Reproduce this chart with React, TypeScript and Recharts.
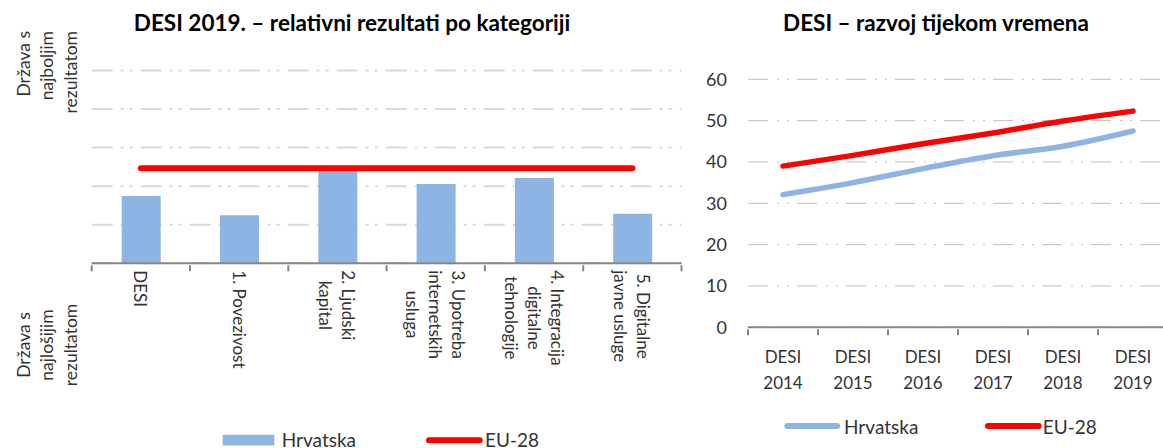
import React from "react";
import { Bar, CartesianGrid, ComposedChart, Line, LineChart, XAxis, YAxis } from "recharts";

// lijevi graf – relativni rezultati (0 = najlošija država, 1 = najbolja)
const kategorije = [
  "DESI",
  "1. Povezivost",
  "2. Ljudski\nkapital",
  "3. Upotreba\ninternetskih\nusluga",
  "4. Integracija\ndigitalne\ntehnologije",
  "5. Digitalne\njavne usluge",
];
const hrvatskaRel = [0.349, 0.249, 0.479, 0.411, 0.442, 0.257];
const eu28Rel = [0.493, 0.493, 0.493, 0.493, 0.493, 0.493];
const relTicks = [0, 0.2, 0.4, 0.6, 0.8, 1];

// desni graf – DESI kroz godine
const godine = ["DESI 2014", "DESI 2015", "DESI 2016", "DESI 2017", "DESI 2018", "DESI 2019"];
const hrvatskaDesi = [32.1, 35.0, 38.4, 41.5, 43.8, 47.5];
const eu28Desi = [39.0, 41.6, 44.4, 47.0, 49.9, 52.3];
const desiTicks = [0, 10, 20, 30, 40, 50, 60];

const serije = ["Hrvatska", "EU-28"];
const najboljiLines = ["Država s", "najboljim", "rezultatom"];
const najlosijiLines = ["Država s", "najlošijim", "rezultatom"];

const BLUE = "#8EB4E3";
const RED = "#FF0000";
const AXIS = "#868686";
const TEXT = "#333333";
const FONT = "Lato, 'Noto Sans', sans-serif";
const LABEL_SIZE = 17;

const relData = kategorije.map((k, i) => ({ kategorija: k, hrvatska: hrvatskaRel[i], eu28: eu28Rel[i] }));
const desiData = godine.map((g, i) => ({ godina: g, hrvatska: hrvatskaDesi[i], eu28: eu28Desi[i] }));

let ctx: CanvasRenderingContext2D | null = null;
function textWidth(s: string, size: number) {
  if (!ctx) ctx = document.createElement("canvas").getContext("2d");
  if (!ctx) return s.length * size * 0.5;
  ctx.font = `${size}px Lato`;
  return ctx.measureText(s).width;
}

function BoundaryTicks({ x, y, half, last }: { x: number; y: number; half: number; last: boolean }) {
  return (
    <>
      <line x1={x - half} x2={x - half} y1={y} y2={y + 6} stroke={AXIS} strokeWidth={2} />
      {last && <line x1={x + half} x2={x + half} y1={y} y2={y + 6} stroke={AXIS} strokeWidth={2} />}
    </>
  );
}

function RotatedTick(props: any) {
  const { x, y, payload, index, visibleTicksCount } = props;
  const half = payload?.offset || 49;
  const lines = String(payload.value).split("\n");
  const maxW = Math.max(...lines.map((l) => textWidth(l, LABEL_SIZE)));
  const top = y + 5;
  const lh = 23;
  return (
    <g>
      <BoundaryTicks x={x} y={y} half={half} last={index === visibleTicksCount - 1} />
      {lines.map((l, i) => (
        <text
          key={i}
          transform={`rotate(90, ${x}, ${top})`}
          x={x + maxW / 2}
          y={top + (i - (lines.length - 1) / 2) * lh}
          textAnchor="middle"
          dominantBaseline="central"
          fontSize={LABEL_SIZE}
          fill={TEXT}
        >
          {l}
        </text>
      ))}
    </g>
  );
}

function YearTick(props: any) {
  const { x, y, payload, index, visibleTicksCount } = props;
  const half = payload?.offset || 35;
  const [a, b] = String(payload.value).split(" ");
  return (
    <g>
      <BoundaryTicks x={x} y={y} half={half} last={index === visibleTicksCount - 1} />
      <text x={x} y={y + 27} textAnchor="middle" dominantBaseline="central" fontSize={17} fill={TEXT}>
        {a}
      </text>
      <text x={x} y={y + 53.5} textAnchor="middle" dominantBaseline="central" fontSize={17} fill={TEXT}>
        {b}
      </text>
    </g>
  );
}

function VerticalLabel({ cx, at, lines, anchor }: { cx: number; at: number; lines: string[]; anchor: "end" | "middle" }) {
  const lh = 23.5;
  return (
    <>
      {lines.map((l, i) => (
        <text
          key={i}
          transform={`rotate(-90, ${cx}, ${at})`}
          x={cx}
          y={at + (i - (lines.length - 1) / 2) * lh}
          textAnchor={anchor}
          dominantBaseline="central"
          fontSize={17.5}
          fill={TEXT}
        >
          {l}
        </text>
      ))}
    </>
  );
}

export default function App() {
  return (
    <div
      style={{
        position: "absolute",
        left: 0,
        top: 0,
        width: 1163,
        height: 448,
        overflow: "hidden",
        background: "#fff",
        fontFamily: FONT,
      }}
    >
      <div style={{ position: "absolute", left: 0, top: 0 }}>
        <ComposedChart width={700} height={448} data={relData} margin={{ top: 70.5, right: 18.5, left: 91.7, bottom: 34.7 }}>
          <CartesianGrid vertical={false} stroke="#D9D9D9" strokeWidth={2} strokeDasharray="21 8 3 6 3 8" />
          <XAxis
            dataKey="kategorija"
            interval={0}
            height={150}
            tickLine={false}
            tickSize={0}
            axisLine={{ stroke: AXIS, strokeWidth: 2 }}
            tick={(p: any) => <RotatedTick {...p} />}
          />
          <YAxis domain={[0, 1]} ticks={relTicks} hide />
          <Bar dataKey="hrvatska" fill={BLUE} barSize={39} isAnimationActive={false} />
          <Line
            dataKey="eu28"
            type="linear"
            stroke={RED}
            strokeWidth={6}
            strokeLinecap="round"
            dot={false}
            activeDot={false}
            isAnimationActive={false}
          />
        </ComposedChart>
      </div>

      <div style={{ position: "absolute", left: 700, top: 0 }}>
        <LineChart width={480} height={448} data={desiData} margin={{ top: 79.3, right: 12, left: 8, bottom: 60.7 }}>
          <CartesianGrid vertical={false} stroke="#BFBFBF" strokeWidth={1} strokeDasharray="20 9 2 8 2 8" />
          <XAxis
            dataKey="godina"
            scale="band"
            interval={0}
            height={60}
            tickLine={false}
            tickSize={0}
            axisLine={{ stroke: AXIS, strokeWidth: 2 }}
            tick={(p: any) => <YearTick {...p} />}
          />
          <YAxis
            domain={[0, 60]}
            ticks={desiTicks}
            width={40}
            tickLine={false}
            axisLine={false}
            tickSize={0}
            tickMargin={21}
            tick={{ fontSize: 18, fill: TEXT }}
          />
          <Line
            dataKey="hrvatska"
            type="monotone"
            stroke={BLUE}
            strokeWidth={5.5}
            strokeLinecap="round"
            dot={false}
            activeDot={false}
            isAnimationActive={false}
          />
          <Line
            dataKey="eu28"
            type="monotone"
            stroke={RED}
            strokeWidth={5.5}
            strokeLinecap="round"
            dot={false}
            activeDot={false}
            isAnimationActive={false}
          />
        </LineChart>
      </div>

      <svg width={1163} height={448} style={{ position: "absolute", left: 0, top: 0, pointerEvents: "none" }}>
        <text x={352} y={22} textAnchor="middle" dominantBaseline="central" fontSize={22.5} fontWeight="bold" fill="#000">
          DESI 2019. – relativni rezultati po kategoriji
        </text>
        <text x={936} y={22} textAnchor="middle" dominantBaseline="central" fontSize={22.5} fontWeight="bold" fill="#000">
          DESI – razvoj tijekom vremena
        </text>

        <VerticalLabel cx={46.7} at={31} lines={najboljiLines} anchor="end" />
        <VerticalLabel cx={46.7} at={345} lines={najlosijiLines} anchor="middle" />

        {/* legenda lijevo */}
        <rect x={222.7} y={434.8} width={51.6} height={10.7} fill={BLUE} />
        <text x={281.7} y={439.5} dominantBaseline="central" fontSize={19} fill={TEXT}>
          {serije[0]}
        </text>
        <line x1={429} x2={479.7} y1={440.2} y2={440.2} stroke={RED} strokeWidth={6} strokeLinecap="round" />
        <text x={485} y={439.5} dominantBaseline="central" fontSize={19} fill={TEXT}>
          {serije[1]}
        </text>

        {/* legenda desno */}
        <line x1={787.3} x2={837} y1={426} y2={426} stroke={BLUE} strokeWidth={6} strokeLinecap="round" />
        <text x={844} y={426} dominantBaseline="central" fontSize={19} fill={TEXT}>
          {serije[0]}
        </text>
        <line x1={988} x2={1038.7} y1={426} y2={426} stroke={RED} strokeWidth={6} strokeLinecap="round" />
        <text x={1042.7} y={426} dominantBaseline="central" fontSize={19} fill={TEXT}>
          {serije[1]}
        </text>
      </svg>
    </div>
  );
}
